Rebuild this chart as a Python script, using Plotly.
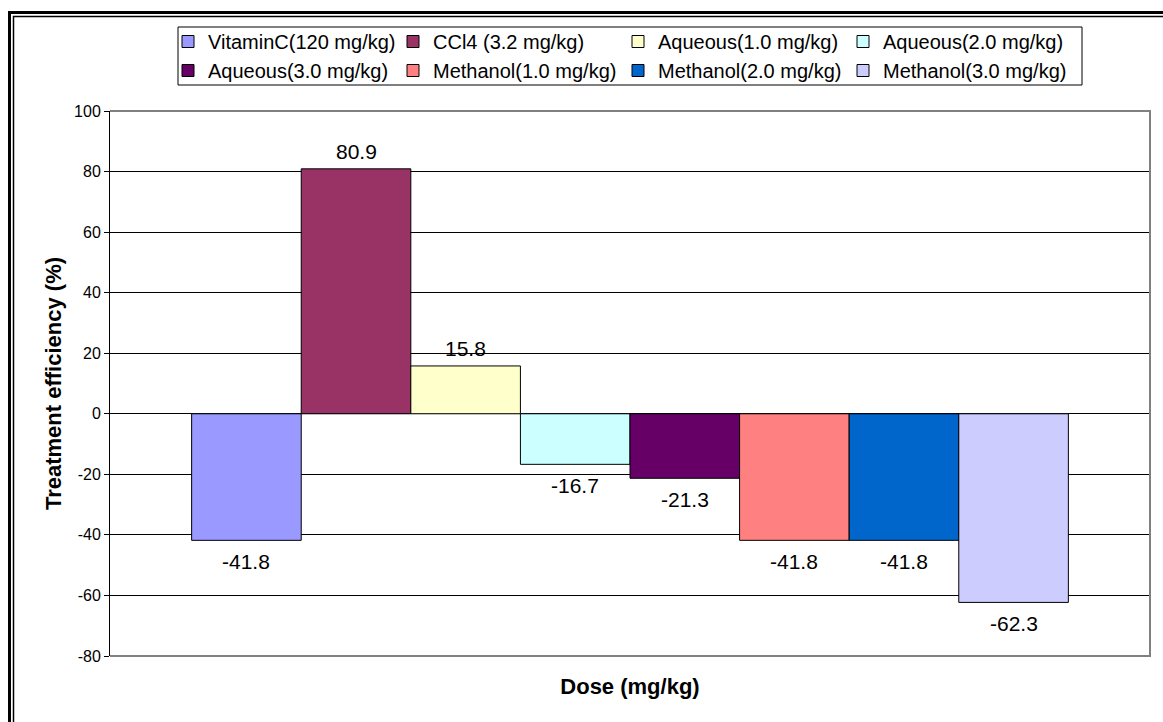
import plotly.graph_objects as go

# Treatment groups, their efficiency values (%) and bar colours
groups = [
    "VitaminC(120 mg/kg)",
    "CCl4 (3.2 mg/kg)",
    "Aqueous(1.0 mg/kg)",
    "Aqueous(2.0 mg/kg)",
    "Aqueous(3.0 mg/kg)",
    "Methanol(1.0 mg/kg)",
    "Methanol(2.0 mg/kg)",
    "Methanol(3.0 mg/kg)",
]
efficiency = [-41.8, 80.9, 15.8, -16.7, -21.3, -41.8, -41.8, -62.3]
colors = ["#9999FF", "#993366", "#FFFFCC", "#CCFFFF",
          "#660066", "#FF8080", "#0066CC", "#CCCCFF"]

y_ticks = list(range(-80, 101, 20))
y_tick_text = [str(v) for v in y_ticks]

W, H = 1163, 722
ML, MR, MT, MB = 110, 13, 111, 66
PW, PH = W - ML - MR, H - MT - MB
FONT = "Liberation Sans, Arial, sans-serif"


def px_x(p):
    return (p - ML) / PW


def px_y(p):
    return (H - MB - p) / PH


fig = go.Figure()
for i, (name, val, col) in enumerate(zip(groups, efficiency, colors)):
    fig.add_trace(go.Bar(
        x=[i], y=[val], name=name, width=1,
        marker=dict(color=col, line=dict(color="black", width=1)),
    ))
    fig.add_annotation(
        x=i, y=val, text=f"{val}", showarrow=False,
        yshift=17 if val > 0 else -21,
        font=dict(family=FONT, size=21, color="black"),
    )

n = len(groups)
side = 0.745
fig.update_layout(
    width=W, height=H,
    margin=dict(l=ML, r=MR, t=MT, b=MB, pad=0),
    paper_bgcolor="white", plot_bgcolor="white",
    font=dict(family=FONT, color="black"),
    barmode="overlay",
    showlegend=True,
    legend=dict(
        orientation="h", x=px_x(168), y=px_y(22),
        xanchor="left", yanchor="top",
        font=dict(size=20, family=FONT, color="black"),
        borderwidth=0, bgcolor="rgba(0,0,0,0)",
        entrywidth=180, entrywidthmode="pixels",
        traceorder="normal",
    ),
    xaxis=dict(
        range=[-0.5 - side, n - 0.5 + side],
        showticklabels=False, showgrid=False, zeroline=False,
        ticks="", showline=False,
        title=dict(text="<b>Dose (mg/kg)</b>", font=dict(size=22, family=FONT),
                   standoff=22),
    ),
    yaxis=dict(
        range=[-80, 100], tickvals=y_ticks, ticktext=y_tick_text,
        showgrid=True, gridcolor="black", gridwidth=1,
        zeroline=True, zerolinecolor="black", zerolinewidth=1,
        showline=True, linecolor="black", linewidth=1,
        ticks="outside", ticklen=5, tickcolor="black",
        tickfont=dict(size=16, family=FONT, color="black"),
        title=dict(text="<b>Treatment efficiency (%)</b>",
                   font=dict(size=22, family=FONT), standoff=6),
    ),
)

# Legend frame
fig.add_shape(type="rect", xref="paper", yref="paper",
              x0=px_x(178), x1=px_x(1082), y0=px_y(27), y1=px_y(85),
              line=dict(color="black", width=1), layer="below")

# Plot-area frame (top, right, bottom) in grey
fig.add_shape(type="path", xref="paper", yref="paper",
              path="M 0,1 H 1 V 0 H 0", line=dict(color="#808080", width=2),
              layer="above")

# Double frame around the whole chart
fig.add_shape(type="rect", xref="paper", yref="paper",
              x0=px_x(9.5), x1=px_x(1200), y0=px_y(12.5), y1=px_y(760),
              line=dict(color="black", width=3), layer="above")
fig.add_shape(type="rect", xref="paper", yref="paper",
              x0=px_x(13.5), x1=px_x(1200), y0=px_y(16.5), y1=px_y(760),
              line=dict(color="black", width=1.5), layer="above")

fig.write_html("out.html")
